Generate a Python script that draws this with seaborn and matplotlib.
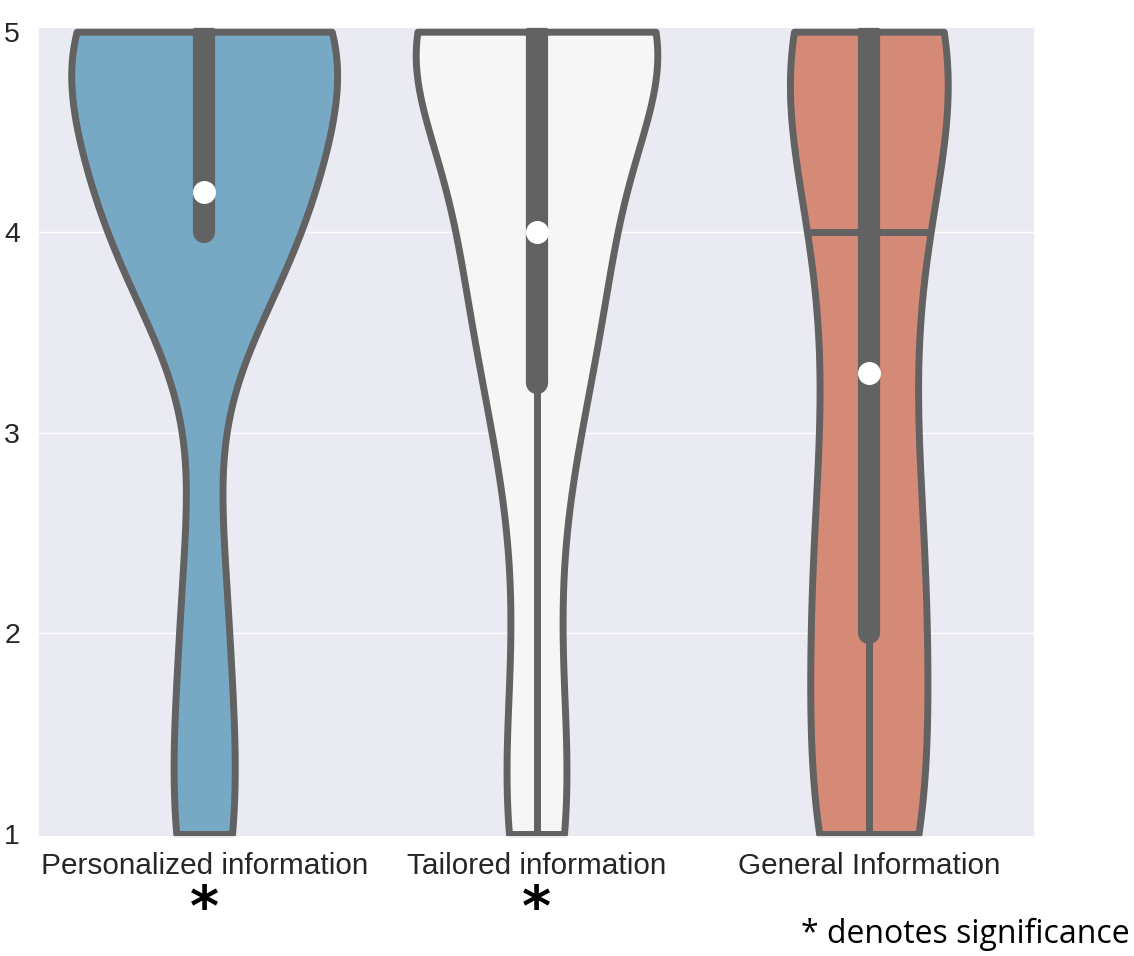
import matplotlib
matplotlib.use("Agg")
import matplotlib.pyplot as plt
import matplotlib.transforms as mtransforms
from matplotlib.collections import PolyCollection
import pandas as pd
import seaborn as sns

# Survey scores per information type
categories = ["Personalized information", "Tailored information", "General Information"]

personalized = [1.0, 1.0, 1.4, 2.0, 2.45,
                4.0, 4.0, 4.0, 4.0, 4.0, 4.0, 4.0,
                4.2,
                5.0, 5.0, 5.0, 5.0, 5.0, 5.0, 5.0, 5.0, 5.0, 5.0, 5.0, 5.0]
tailored = [1.0, 1.0, 1.4, 2.0, 2.6, 3.25, 3.25,
            3.25, 3.9, 4.0, 4.0, 4.0, 4.0,
            5.0, 5.0, 5.0, 5.0, 5.0, 5.0, 5.0, 5.0, 5.0, 5.0, 5.0, 5.0]
general = [1.0, 1.0, 1.0, 1.0, 1.3, 2.0, 2.0,
           2.1, 2.2, 2.7, 3.0, 3.0, 3.6, 3.9, 4.1, 4.3, 4.5,
           5.0, 5.0, 5.0, 5.0, 5.0, 5.0, 5.0]

significant = [True, True, False]
general_split = 4.0
y_ticks = [1, 2, 3, 4, 5]
y_range = (0.985, 5.025)

line_gray = "#626262"
fills = sns.color_palette("RdBu_r", 3, desat=0.75)

sns.set_theme(style="darkgrid")
plt.rcParams["font.family"] = ["Liberation Sans", "DejaVu Sans"]

df = pd.DataFrame({
    "group": ([categories[0]] * len(personalized)
              + [categories[1]] * len(tailored)
              + [categories[2]] * len(general)),
    "score": personalized + tailored + general,
})

W, H = 1134, 956
fig = plt.figure(figsize=(W / 100, H / 100), dpi=100)
ax = fig.add_axes([38 / W, 1 - 837 / H, (1035 - 38) / W, (837 - 26.7) / H])

sns.violinplot(
    data=df, x="group", y="score", order=categories,
    cut=0, inner="box", density_norm="area", bw_adjust=0.8,
    linewidth=5, linecolor=line_gray,
    inner_kws=dict(box_width=16, whis_width=5, marker="o",
                   solid_capstyle="round"),
    ax=ax,
)

# One fill colour per violin; the first three PolyCollections are the bodies
polys = [c for c in ax.collections if isinstance(c, PolyCollection)]
for poly, col in zip(polys, fills):
    poly.set_facecolor(col)

# Divider inside the General Information violin
gen_poly = polys[2]
split = ax.axhline(general_split, color=line_gray, lw=5, zorder=1.5)
split.set_clip_path(gen_poly.get_paths()[0], gen_poly.get_transform())

ax.set_ylim(*y_range)
ax.set_yticks(y_ticks)
ax.set_xlabel("")
ax.set_ylabel("")
ax.tick_params(axis="y", pad=7, labelsize=20.5, labelcolor="#262626")
ax.tick_params(axis="x", pad=4.5, labelsize=21.4, labelcolor="#262626")

# Only the inner score levels get a grid line
for tick, gl in zip(y_ticks, ax.yaxis.get_gridlines()):
    if tick in (y_ticks[0], y_ticks[-1]):
        gl.set_visible(False)

# Significance markers below the category labels
blend = mtransforms.blended_transform_factory(ax.transData, ax.transAxes)
for i, sig in enumerate(significant):
    if sig:
        ax.text(i, -0.108, "*", transform=blend, ha="center", va="baseline",
                fontsize=40, fontweight="bold", color="black",
                family="DejaVu Sans")

fig.text(1130 / W, 1 - 943 / H, "* denotes significance",
         ha="right", va="baseline", fontsize=23, color="black",
         family=["Open Sans", "DejaVu Sans"])

fig.savefig("out.png", dpi=100)
